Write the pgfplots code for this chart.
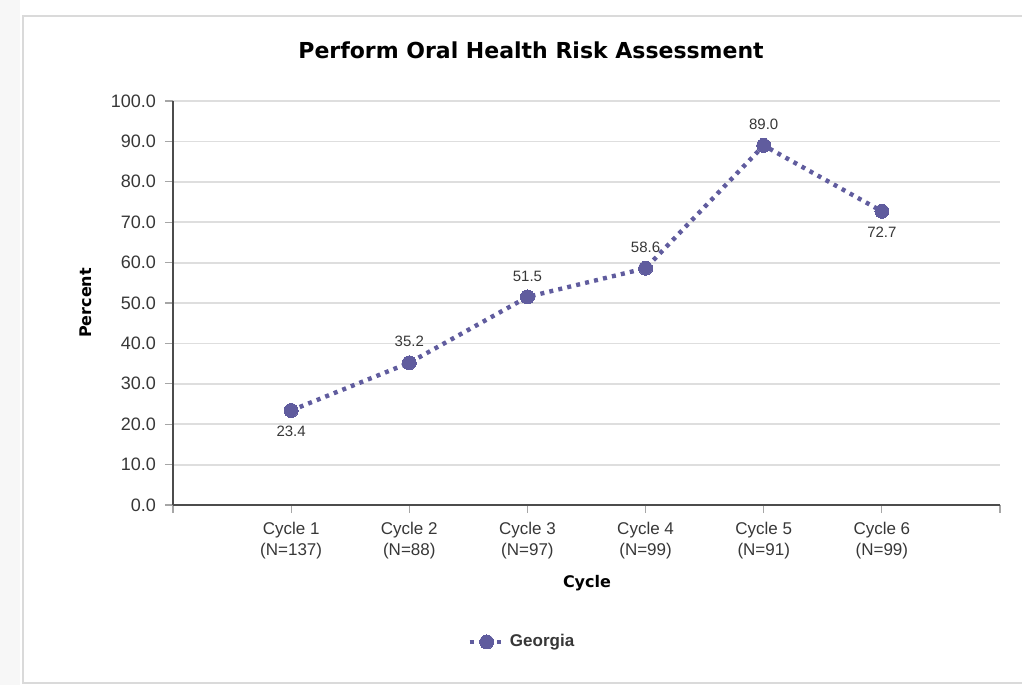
\documentclass[border=0pt]{standalone}
\usepackage{pgfplots}
\pgfplotsset{compat=1.18}
\usepackage{fontspec}
\setmainfont{Liberation Sans}
\newfontfamily\dvs{DejaVu Sans}
\definecolor{serie}{RGB}{96,92,158}
\definecolor{txt}{RGB}{55,55,55}
\definecolor{gridc}{RGB}{222,222,222}
\definecolor{framec}{RGB}{218,218,218}
\begin{document}
\begin{tikzpicture}
% page = 1022 x 685 px at 0.5pt per px, axis origin at px (173,505)
\useasboundingbox (-86.5pt,-90pt) rectangle (424.5pt,252.5pt);
\fill[gray!6] (-86.5pt,-90pt) rectangle (-76.5pt,252.5pt);
\draw[framec, line width=1pt] (430pt,244.5pt) -- (-75pt,244.5pt) -- (-75pt,-89pt) -- (430pt,-89pt);
\begin{axis}[
    at={(0,0)}, anchor=south west,
    scale only axis,
    width=413.5pt, height=202pt,
    xmin=0, xmax=7,
    ymin=0, ymax=100,
    axis x line*=bottom,
    axis y line*=left,
    x axis line style={line width=1.3pt, color=black!70},
    y axis line style={line width=0.8pt, color=black!70},
    xtick={0,1,2,3,4,5,6,7},
    xticklabels={,{Cycle 1\\(N=137)},{Cycle 2\\(N=88)},{Cycle 3\\(N=97)},{Cycle 4\\(N=99)},{Cycle 5\\(N=91)},{Cycle 6\\(N=99)},},
    ytick={0,10,...,100},
    tick align=outside,
    major tick length=4pt,
    tick style={color=black!35, line width=0.6pt},
    ymajorgrids,
    major grid style={color=gridc, line width=0.9pt},
    yticklabel={\pgfmathprintnumber[fixed,fixed zerofill,precision=1]{\tick}},
    /pgf/number format/assume math mode=true,
    yticklabel style={font=\fontsize{9}{10}\selectfont, text=txt, xshift=-1pt},
    xticklabel style={font=\fontsize{8.5}{10.5}\selectfont, text=txt, align=center, yshift=-1pt},
    title={Perform Oral Health Risk Assessment},
    title style={at={(0.433,1.096)}, anchor=center, font=\dvs\bfseries\fontsize{11}{13}\selectfont},
    xlabel={Cycle},
    xlabel style={at={(0.5006,-0.193)}, anchor=center, font=\dvs\bfseries\fontsize{8}{10}\selectfont},
    ylabel={Percent},
    ylabel style={at={(-0.106,0.5)}, anchor=center, font=\dvs\bfseries\fontsize{8}{10}\selectfont},
    legend style={at={(0.423,-0.339)}, anchor=center, draw=none, fill=none,
        font=\bfseries\fontsize{8.5}{10}\selectfont, text=txt},
    clip=false,
]
\addplot[color=serie, line width=2.2pt, dash pattern=on 2pt off 2.6pt,
    mark=*, mark size=3.5pt, mark options={solid, fill=serie, draw=serie, line width=0pt},
    nodes near coords,
    point meta=explicit,
    visualization depends on={\thisrow{pos} \as \lpos},
    every node near coord/.append style={anchor=center, yshift=\lpos*10.5pt,
        font=\fontsize{7.5}{9}\selectfont, text=txt},
    nodes near coords={\pgfmathprintnumber[fixed,fixed zerofill,precision=1]{\pgfplotspointmeta}},
] table[x=x, y=y, meta=y] {
x y pos
1 23.4 -1
2 35.2 1
3 51.5 1
4 58.6 1
5 89.0 1
6 72.7 -1
};
\addlegendentry{Georgia}
\end{axis}
\end{tikzpicture}
\end{document}
